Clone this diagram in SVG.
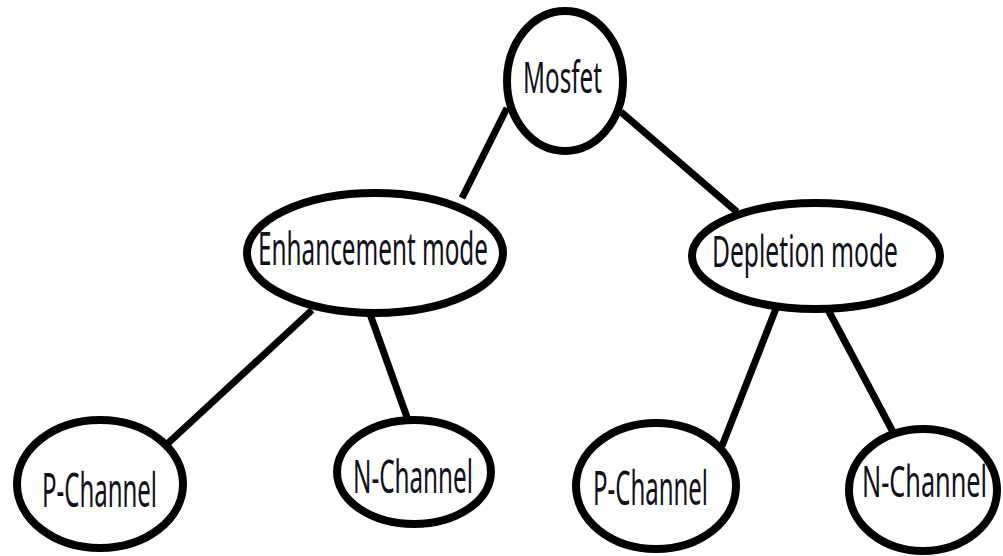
<svg xmlns="http://www.w3.org/2000/svg" width="1003" height="556" viewBox="0 0 1003 556">
<style>
.n{fill:#fff;stroke:#000;stroke-width:8}
.c line{stroke:#000;stroke-width:7;stroke-linecap:butt}
text{font-family:"Noto Sans","Liberation Sans",sans-serif;fill:#10101a}
</style>
<rect width="1003" height="556" fill="#fff"/>
<g class="c" id="connectors">
<line x1="507" y1="108" x2="462" y2="198"/>
<line x1="621" y1="112" x2="737" y2="212"/>
<line x1="312" y1="310" x2="165" y2="446"/>
<line x1="370" y1="314" x2="408" y2="420"/>
<line x1="777" y1="306" x2="722" y2="446"/>
<line x1="826" y1="306" x2="893" y2="432"/>
</g>
<g id="mosfet"><ellipse class="n" cx="565" cy="81" rx="58" ry="70"/>
<text x="523" y="93" font-size="43" textLength="79" lengthAdjust="spacingAndGlyphs">Mosfet</text></g>
<g id="enhancement"><ellipse class="n" cx="375" cy="253" rx="128" ry="60"/>
<text x="258" y="265" font-size="45" textLength="230" lengthAdjust="spacingAndGlyphs">Enhancement mode</text></g>
<g id="depletion"><ellipse class="n" cx="816" cy="256" rx="124" ry="53"/>
<text x="712" y="267" font-size="44" textLength="186" lengthAdjust="spacingAndGlyphs">Depletion mode</text></g>
<g id="p1"><ellipse class="n" cx="100" cy="484" rx="83" ry="64"/>
<text x="42" y="507" font-size="48" textLength="115" lengthAdjust="spacingAndGlyphs">P-Channel</text></g>
<g id="n1"><ellipse class="n" cx="414" cy="472" rx="77" ry="52"/>
<text x="353" y="493" font-size="45" textLength="120" lengthAdjust="spacingAndGlyphs">N-Channel</text></g>
<g id="p2"><ellipse class="n" cx="656" cy="486" rx="80" ry="63"/>
<text x="593" y="505" font-size="48" textLength="115" lengthAdjust="spacingAndGlyphs">P-Channel</text></g>
<g id="n2"><ellipse class="n" cx="923" cy="490" rx="74" ry="61"/>
<text x="862" y="497" font-size="44" textLength="125" lengthAdjust="spacingAndGlyphs">N-Channel</text></g>
</svg>
